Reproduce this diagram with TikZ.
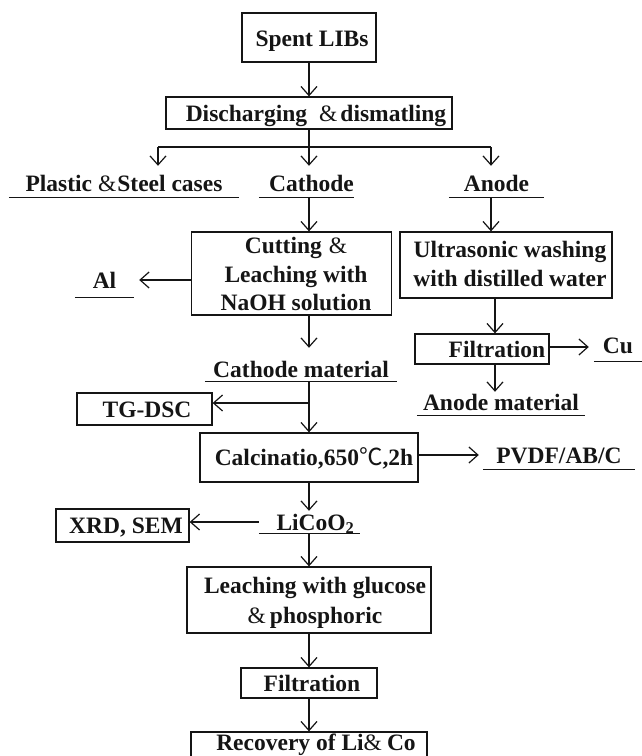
\documentclass[tikz,border=0pt]{standalone}
\usepackage{fontspec}
\setmainfont{Liberation Serif}
\newfontfamily\ampfont{Liberation Serif}
\newfontfamily\cjkfont{Noto Sans CJK SC}
\usetikzlibrary{arrows.meta,calc}
\newcommand{\amp}{{\ampfont\mdseries\&}}
\newcommand{\degc}{{\cjkfont\mdseries ℃}}
\definecolor{ink}{HTML}{151515}
\begin{document}
\begin{tikzpicture}[x=1pt,y=-1pt,
  ln/.style={line width=1.2pt, draw=ink},
  arr/.style={ln, -{Straight Barb[length=9pt,width=16pt]}},
  box/.style={draw=ink, line width=1.3pt, inner sep=0pt},
  txt/.style={font=\fontsize{23.5}{28.5}\selectfont\bfseries, text=ink, inner sep=0pt, align=center},
  ulab/.style={txt, text height=16pt, text depth=0pt, minimum width=#1,
    append after command={\pgfextra{\draw[ln] (\tikzlastnode.south west) -- (\tikzlastnode.south east);}}}
]
\useasboundingbox (0,0) rectangle (642,756);
\clip (0,0) rectangle (642,756);

% ---------- boxes ----------
\node[box, minimum width=134, minimum height=49] (spent) at (309,37.5) {};
\node[box, minimum width=286, minimum height=32] (disch) at (309,113) {};
\node[box, minimum width=200, minimum height=83] (cut) at (291.5,273.5) {};
\node[box, minimum width=212, minimum height=66] (ultra) at (506,265) {};
\node[box, minimum width=134, minimum height=30] (filtA) at (482,349) {};
\node[box, minimum width=135, minimum height=32] (tgdsc) at (144.5,409) {};
\node[box, minimum width=218, minimum height=49] (calc) at (309,457.5) {};
\node[box, minimum width=133, minimum height=33] (xrd) at (122.5,525.5) {};
\node[box, minimum width=244, minimum height=66] (leach) at (309,600) {};
\node[box, minimum width=136, minimum height=30] (filtB) at (309,683) {};
\node[box, minimum width=236, minimum height=34] (recov) at (309,749) {};

% ---------- box texts ----------
\node[txt, anchor=base] (spentT) at (312,46) {Spent LIBs};
\node[txt, anchor=base] (dischT) at (316,121) {Discharging\hspace{12pt}\amp\hspace{3pt}dismatling};
\node[txt] (cutT) at (296,274.4) {Cutting\hspace{7pt}\amp\\Leaching with\\NaOH solution};
\node[txt] (ultraT) at (510,264.2) {Ultrasonic washing\\with distilled water};
\node[txt, anchor=base] (filtAT) at (497,357) {Filtration};
\node[txt, anchor=base] (tgT) at (147,417) {TG-DSC};
\node[txt, anchor=base] (calcT) at (314,465) {Calcinatio,650\degc,2h};
\node[txt, anchor=base] (xrdT) at (126,533) {XRD, SEM};
\node[txt] (leachT) at (315,602.5) {Leaching with glucose\\[1.5pt]\amp\hspace{4pt}phosphoric};
\node[txt, anchor=base] (filtBT) at (312,691) {Filtration};
\node[txt, anchor=base] (recovT) at (316,750) {Recovery of Li\amp\hspace{5pt}Co};

% ---------- underlined labels ----------
\node[ulab=230, minimum height=28] (plastic) at (124,183) {Plastic\hspace{6pt}\amp\hspace{1pt}Steel cases};
\node[ulab=87, minimum height=28] (cathode) at (306.5,183) {\hspace*{10pt}Cathode};
\node[ulab=95, minimum height=28] (anode) at (496.5,183) {Anode};
\node[ulab=59, minimum height=34] (al) at (104.5,280) {Al};
\node[ulab=48, minimum height=32] (cu) at (618,345) {Cu};
\node[ulab=192, minimum height=24] (cathmat) at (301,369) {Cathode material};
\node[ulab=168, minimum height=26] (anodemat) at (501,402) {Anode material};
\node[ulab=152, minimum height=28] (pvdf) at (559,455) {PVDF/AB/C};
\node[ulab=101, minimum height=22] (licoo) at (309.5,522) {\hspace*{12pt}LiCoO\textsubscript{2}};

% ---------- helper coordinates ----------
\coordinate (spine) at (309,0);
\coordinate (colR) at (495,0);
\coordinate (brL) at (158,147);
\coordinate (brM) at (309,147);
\coordinate (brR) at (491,147);
\coordinate (tgb) at (309,403);

% ---------- connectors ----------
\draw[arr] (spent.south -| spine) -- (disch.north -| spine);
\draw[ln] (disch.south -| spine) -- (brM);
\draw[ln] (brL) -- (brR);
\draw[arr, shorten >=3pt] (brL) -- (brL |- plastic.north);
\draw[arr, shorten >=3pt] (brM) -- (brM |- cathode.north);
\draw[arr, shorten >=3pt] (brR) -- (brR |- anode.north);

\draw[arr] (cathode.south -| spine) -- (cut.north -| spine);
\draw[arr] (anode.south -| brR) -- (ultra.north -| brR);
\draw[arr, shorten >=5pt] (cut.west |- al) -- (al.east);
\draw[arr, shorten >=9pt] (cut.south -| spine) -- (cathmat.north -| spine);

\draw[arr] (ultra.south -| colR) -- (filtA.north -| colR);
\draw[arr, shorten >=5pt] (filtA.east |- 0,347) -- (cu.west |- 0,347);
\draw[arr, shorten >=-3pt] (filtA.south -| colR) -- (anodemat.north -| colR);

\draw[arr] (cathmat.south -| spine) -- (calc.north -| spine);
\draw[arr] (tgb) -- (tgdsc.east |- tgb);
\draw[arr, shorten >=4pt] (calc.east |- 0,455) -- (pvdf.west |- 0,455);
\draw[arr] (calc.south -| spine) -- (licoo.north -| spine);
\draw[arr] (licoo.west) -- (xrd.east |- licoo.west);
\draw[arr] (licoo.south -| spine) -- (leach.north -| spine);
\draw[arr] (leach.south -| spine) -- (filtB.north -| spine);
\draw[arr] (filtB.south -| spine) -- (recov.north -| spine);
\end{tikzpicture}
\end{document}
